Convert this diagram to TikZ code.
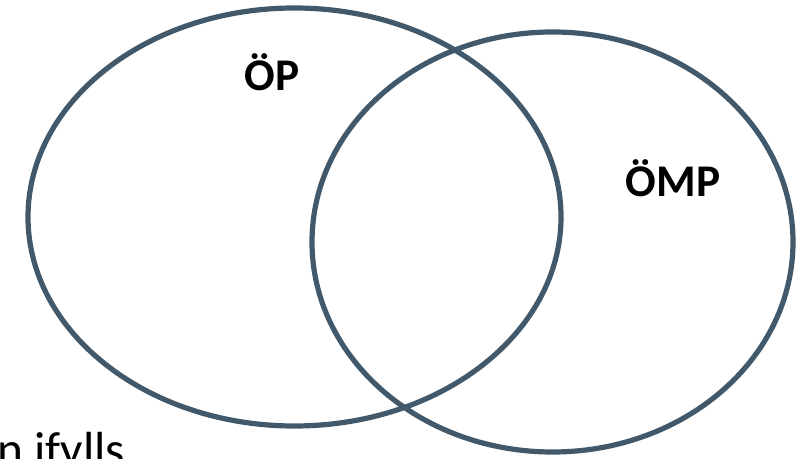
\documentclass[tikz,border=0pt]{standalone}
\usepackage{fontspec}
\setmainfont{Carlito}
\usetikzlibrary{positioning}
\definecolor{ringblue}{RGB}{65,89,107}
\tikzset{ring/.style={draw=ringblue, line width=3.9pt}}
\begin{document}
\begin{tikzpicture}[x=0.75pt, y=-0.75pt, every node/.style={font=\fontsize{34}{40}\selectfont, inner sep=0pt}]
  \useasboundingbox (0,0) rectangle (807,459);
  \clip (0,0) rectangle (807,459);
  % the two sets
  \draw[ring] (294.5,217) ellipse [x radius=266.5, y radius=209];
  \draw[ring] (552.5,242) ellipse [x radius=240.5, y radius=210];
  \node (op) at (272,72) {\textbf{ÖP}};
  \node (omp) at (673,178) {\textbf{ÖMP}};
  % cut-off text at the page edge
  \node[anchor=base west, font=\fontsize{37}{44}\selectfont] (ifylls) at (-3,466) {n ifylls};
  \node[anchor=base east, font=\fontsize{37}{44}\selectfont] (dot) at (3,330) {.};
\end{tikzpicture}
\end{document}
